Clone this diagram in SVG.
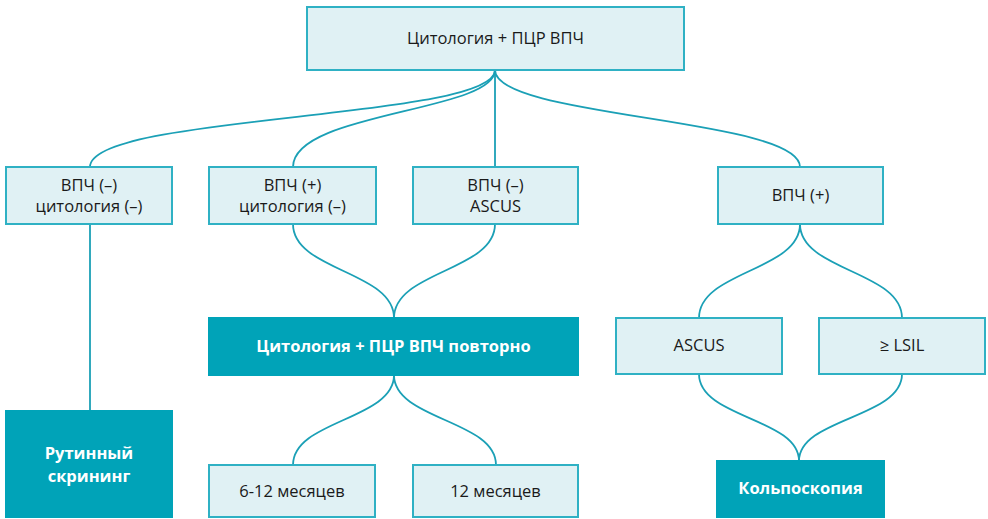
<svg xmlns="http://www.w3.org/2000/svg" width="988" height="519" viewBox="0 0 988 519">
<style>
.lt{fill:#e0f1f4;stroke:#2fb1c4;stroke-width:2}
.dk{fill:#00a3b8;stroke:#00a3b8;stroke-width:2}
.t{font-family:"Open Sans","Noto Sans",sans-serif;font-size:16.5px;fill:#1a1a1a;text-anchor:middle}
.w{font-family:"Open Sans","Noto Sans",sans-serif;font-size:16.5px;font-weight:bold;fill:#ffffff;text-anchor:middle}
.c{fill:none;stroke:#1ba0b6;stroke-width:1.8}
</style>
<rect width="988" height="519" fill="#ffffff"/>
<g id="connectors">
<path class="c" d="M495,70 C495,120 90,114 90,167"/>
<path class="c" d="M495,70 C495,112 293,112 293,167"/>
<path class="c" d="M495,70 L495,167"/>
<path class="c" d="M495,70 C495,118 800,118 800,167"/>
<path class="c" d="M90,224 L90,411"/>
<path class="c" d="M293,224 C293,271 394,271 394,318"/>
<path class="c" d="M495,224 C495,271 394,271 394,318"/>
<path class="c" d="M394,375 C394,420 293,420 293,465"/>
<path class="c" d="M394,375 C394,420 496,420 496,465"/>
<path class="c" d="M800,224 C800,271 699,271 699,318"/>
<path class="c" d="M800,224 C800,271 902,271 902,318"/>
<path class="c" d="M699,374 C699,418 799,418 799,461"/>
<path class="c" d="M902,374 C902,418 799,418 799,461"/>
</g>
<g id="n_top"><rect class="lt" x="307" y="7" width="377" height="63"/><text class="t" x="495.5" y="44">Цитология + ПЦР ВПЧ</text></g>
<g id="n_neg_neg"><rect class="lt" x="6" y="167" width="166" height="57"/><text class="t" x="89" y="191">ВПЧ (–)</text><text class="t" x="89" y="212">цитология (–)</text></g>
<g id="n_pos_neg"><rect class="lt" x="209" y="167" width="167" height="57"/><text class="t" x="292.5" y="191">ВПЧ (+)</text><text class="t" x="292.5" y="212">цитология (–)</text></g>
<g id="n_neg_ascus"><rect class="lt" x="413" y="167" width="165" height="57"/><text class="t" x="495.5" y="191">ВПЧ (–)</text><text class="t" x="495.5" y="212">ASCUS</text></g>
<g id="n_pos"><rect class="lt" x="718" y="167" width="165" height="57"/><text class="t" x="800.5" y="201">ВПЧ (+)</text></g>
<g id="n_repeat"><rect class="dk" x="209" y="318" width="369" height="57"/><text class="w" x="393.5" y="352">Цитология + ПЦР ВПЧ повторно</text></g>
<g id="n_ascus"><rect class="lt" x="616" y="318" width="166" height="56"/><text class="t" x="699" y="351">ASCUS</text></g>
<g id="n_lsil"><rect class="lt" x="819" y="318" width="166" height="56"/><text class="t" x="902" y="351">≥ LSIL</text></g>
<g id="n_routine"><rect class="dk" x="6" y="411" width="166" height="106"/><text class="w" x="89" y="459">Рутинный</text><text class="w" x="89" y="482">скрининг</text></g>
<g id="n_6_12"><rect class="lt" x="209" y="465" width="166" height="52"/><text class="t" x="292" y="497">6-12 месяцев</text></g>
<g id="n_12"><rect class="lt" x="413" y="465" width="165" height="52"/><text class="t" x="495.5" y="497">12 месяцев</text></g>
<g id="n_colpo"><rect class="dk" x="717" y="461" width="167" height="56"/><text class="w" x="800.5" y="494">Кольпоскопия</text></g>
</svg>
